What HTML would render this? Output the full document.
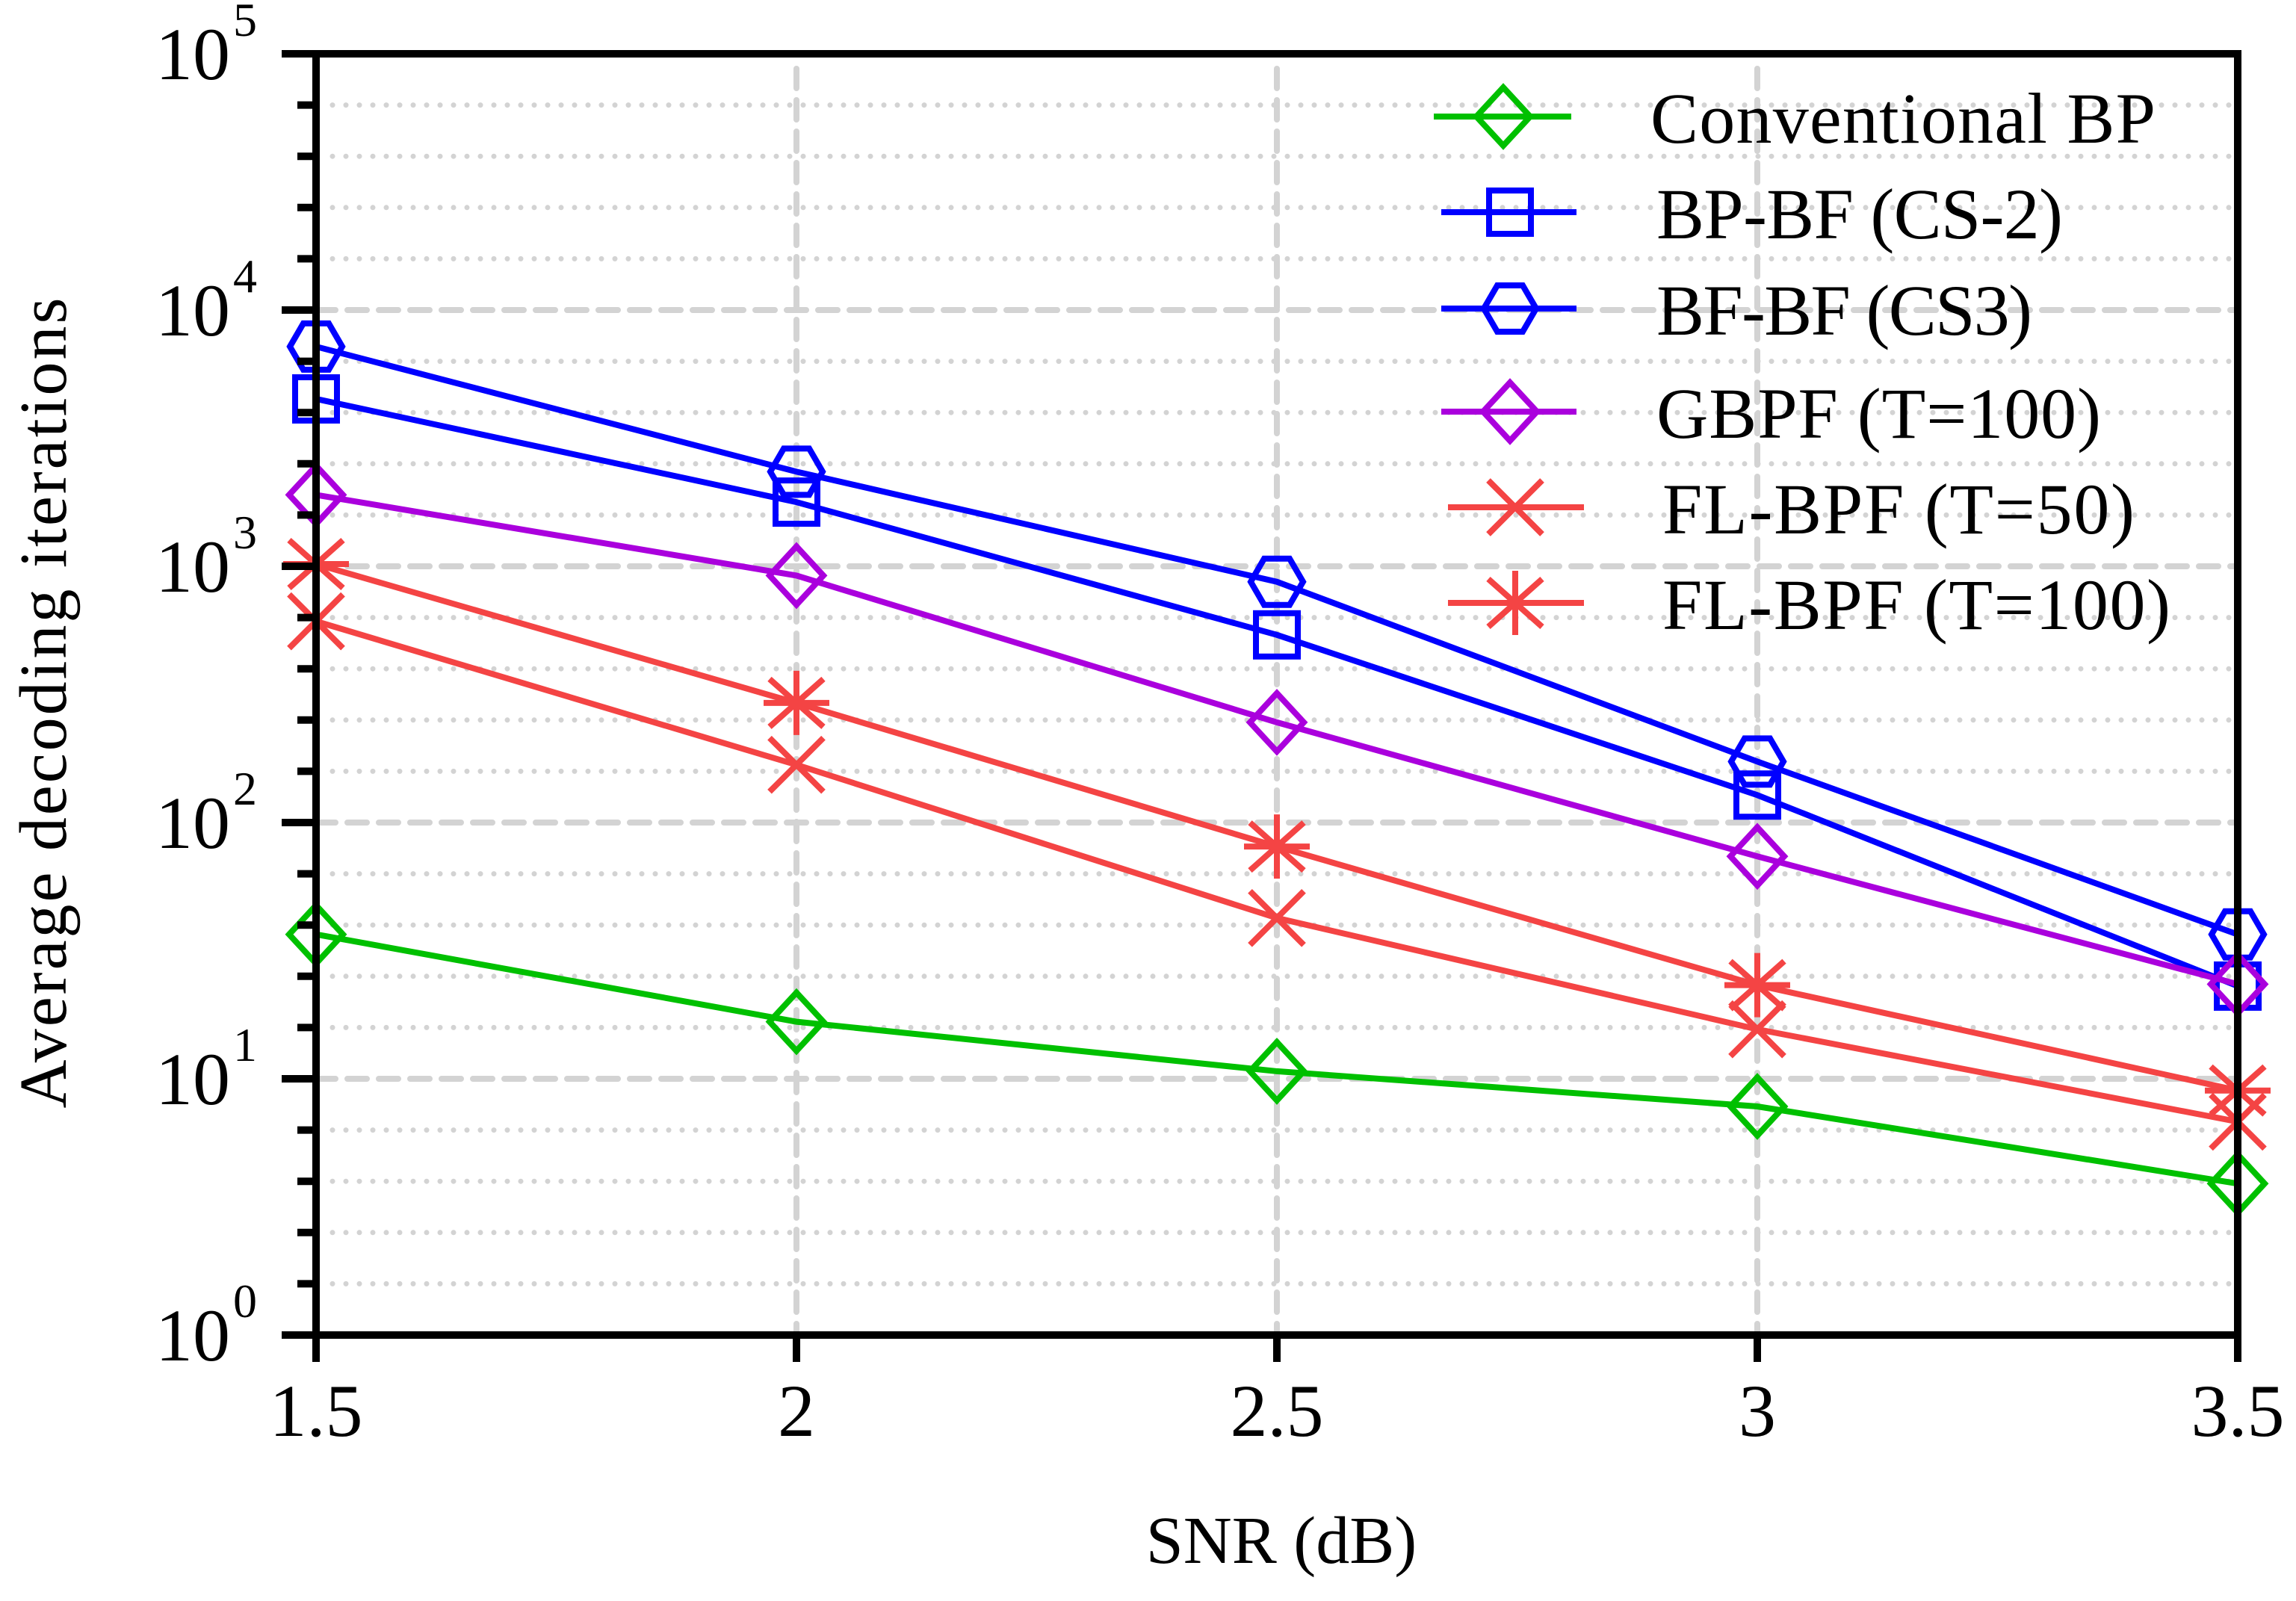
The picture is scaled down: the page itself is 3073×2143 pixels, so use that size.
<!DOCTYPE html>
<html><head><meta charset="utf-8"><style>
html,body{margin:0;padding:0;background:#fff;}
svg text{font-family:"Liberation Serif","Times New Roman",Times,serif;}
</style></head><body>
<svg id="chart" width="3073" height="2138" viewBox="0 0 3073 2138" xmlns="http://www.w3.org/2000/svg">
<g id="grid"></g>
<g id="series"></g>
<g id="axes"></g>
<g id="legend"></g>
<text x="1715" y="2092" font-family="Liberation Serif, serif" font-size="90" text-anchor="middle">SNR (dB)</text>
<text transform="translate(88,941) rotate(-90)" font-family="Liberation Serif, serif" font-size="90" text-anchor="middle" textLength="1085" lengthAdjust="spacing">Average decoding iterations</text>
</svg>
<script>
const categories = [1.5, 2, 2.5, 3, 3.5];
const xTickLabels = ["1.5", "2", "2.5", "3", "3.5"];
const yTickExponents = [0, 1, 2, 3, 4, 5];
const seriesNames = ["Conventional BP", "BP-BF (CS-2)", "BF-BF (CS3)", "GBPF (T=100)", "FL-BPF (T=50)", "FL-BPF (T=100)"];
const convBP = [36.6, 16.7, 10.7, 7.8, 3.9];
const bpbfCS2 = [4500, 1780, 540, 128, 23];
const bfbfCS3 = [7200, 2340, 870, 173, 36.6];
const gbpf100 = [1900, 920, 246, 73.8, 23.4];
const flbpf50 = [610, 168, 42.4, 15.6, 6.8];
const flbpf100 = [1020, 293, 80.6, 23.2, 9.0];

const L=423,R=2995,T=72,B=1787;
const xMin=1.5,xMax=3.5,yMinE=0,yMaxE=5;
const xs=v=>L+(v-xMin)/(xMax-xMin)*(R-L);
const ys=v=>B-(Math.log10(v)-yMinE)/(yMaxE-yMinE)*(B-T);
const NS="http://www.w3.org/2000/svg";
const FF="Liberation Serif, serif";
function mk(tag,attrs,parent){const e=document.createElementNS(NS,tag);for(const k in attrs)e.setAttribute(k,attrs[k]);parent.appendChild(e);return e;}
const grid=document.getElementById('grid'),axes=document.getElementById('axes'),ser=document.getElementById('series'),leg=document.getElementById('legend');

for(let i=0;i<yTickExponents.length-1;i++){
  const e=yTickExponents[i];
  const y0=ys(Math.pow(10,e)), y1=ys(Math.pow(10,e+1));
  for(let k=1;k<5;k++){
    const y=y0+(y1-y0)*k/5;
    const ln=mk('line',{x1:L+22,x2:R,y1:y,y2:y,stroke:'#d3d3d3','stroke-width':7,'stroke-dasharray':'0 18','stroke-linecap':'round'},grid);
    
    
  }
  if(e>0){
    const g=mk('line',{x1:L,x2:R,y1:y0,y2:y0,stroke:'#d3d3d3','stroke-width':8,'stroke-dasharray':'26 16','stroke-linecap':'round'},grid);
    
    
  }
}
categories.slice(1,-1).forEach(c=>{
  const x=xs(c);
  const g=mk('line',{x1:x,x2:x,y1:T+20,y2:B,stroke:'#d3d3d3','stroke-width':8,'stroke-dasharray':'26 16','stroke-linecap':'round'},grid);
  
  
});

const fr=mk('rect',{x:L,y:T,width:R-L,height:B-T,fill:'none',stroke:'#000','stroke-width':10},axes);


yTickExponents.forEach((e,i)=>{
  const y=ys(Math.pow(10,e));
  const t=mk('line',{x1:L-46,x2:L,y1:y,y2:y,stroke:'#000','stroke-width':10},axes);
  
  
  const tx=mk('text',{x:308,y:y+34,'font-size':100,'font-family':FF,'text-anchor':'end'},axes);
  tx.textContent='10';
  
  
  const sp=mk('text',{x:312,y:y-24,'font-size':64,'font-family':FF},axes);
  sp.textContent=String(e);
  
  
  if(i<yTickExponents.length-1){
    const y1=ys(Math.pow(10,e+1));
    for(let k=1;k<5;k++){
      const yy=y+(y1-y)*k/5;
      const m=mk('line',{x1:L-25,x2:L,y1:yy,y2:yy,stroke:'#000','stroke-width':10},axes);
      
      
    }
  }
});
categories.forEach((c,i)=>{
  const x=xs(c);
  const t=mk('line',{x1:x,x2:x,y1:B,y2:B+36,stroke:'#000','stroke-width':10},axes);
  
  
  const tx=mk('text',{x:x,y:B+135,'font-size':100,'font-family':FF,'text-anchor':'middle'},axes);
  tx.textContent=xTickLabels[i];
  
  
});

function marker(type,cx,cy,color,parent){
  const a={fill:'none',stroke:color,'stroke-width':8};
  let e;
  if(type==='diamond'){e=mk('polygon',Object.assign({points:`${cx-36},${cy} ${cx},${cy-39} ${cx+36},${cy} ${cx},${cy+39}`},a),parent);}
  else if(type==='square'){e=mk('rect',Object.assign({x:cx-28,y:cy-29,width:56,height:58},a),parent);}
  else if(type==='hex'){e=mk('polygon',Object.assign({points:`${cx-35},${cy} ${cx-17},${cy-31} ${cx+17},${cy-31} ${cx+35},${cy} ${cx+17},${cy+31} ${cx-17},${cy+31}`},a),parent);}
  else if(type==='x'){e=mk('path',Object.assign({d:`M${cx-36},${cy-36}L${cx+36},${cy+36}M${cx-36},${cy+36}L${cx+36},${cy-36}`},a),parent);}
  else {e=mk('path',Object.assign({d:`M${cx-36},${cy-32}L${cx+36},${cy+32}M${cx-36},${cy+32}L${cx+36},${cy-32}M${cx},${cy-43}L${cx},${cy+43}M${cx-44},${cy}L${cx+44},${cy}`},a),parent);}
  return e;
}
const allSeries=[convBP,bpbfCS2,bfbfCS3,gbpf100,flbpf50,flbpf100];
const colors=['#00c000','#0000ff','#0000ff','#aa00dd','#f44444','#f44444'];
const mtypes=['diamond','square','hex','diamond','x','star'];
const keys=['conventional-bp','bp-bf-cs2','bf-bf-cs3','gbpf-t100','fl-bpf-t50','fl-bpf-t100'];
allSeries.forEach((vals,si)=>{
  const g=mk('g',{},ser);
  
  
  const pts=vals.map((v,i)=>xs(categories[i])+','+ys(v)).join(' ');
  const pl=mk('polyline',{points:pts,fill:'none',stroke:colors[si],'stroke-width':8},g);
  
  
  vals.forEach((v,i)=>{
    const m=marker(mtypes[si],xs(categories[i]),ys(v),colors[si],g);
    
    
  });
});

const legY=[156,284,413,551,679,807];
const legLine=[[1919,2103,2012],[1929,2110,2021],[1929,2110,2021],[1929,2110,2021],[1938,2120,2028],[1938,2120,2028]];
const legTextX=[2209,2217,2217,2217,2225,2225];
const legTextW=[676,544,503,595,632,680];
seriesNames.forEach((n,i)=>{
  const g=mk('g',{},leg);
  
  
  const y=legY[i];
  mk('line',{x1:legLine[i][0],x2:legLine[i][1],y1:y,y2:y,stroke:colors[i],'stroke-width':8},g);
  marker(mtypes[i],legLine[i][2],y,colors[i],g);
  const t=mk('text',{x:legTextX[i],y:y+35,'font-size':96,'font-family':FF,textLength:legTextW[i],lengthAdjust:'spacing'},g);
  t.textContent=n;
  
  
});
</script>
</body></html>
